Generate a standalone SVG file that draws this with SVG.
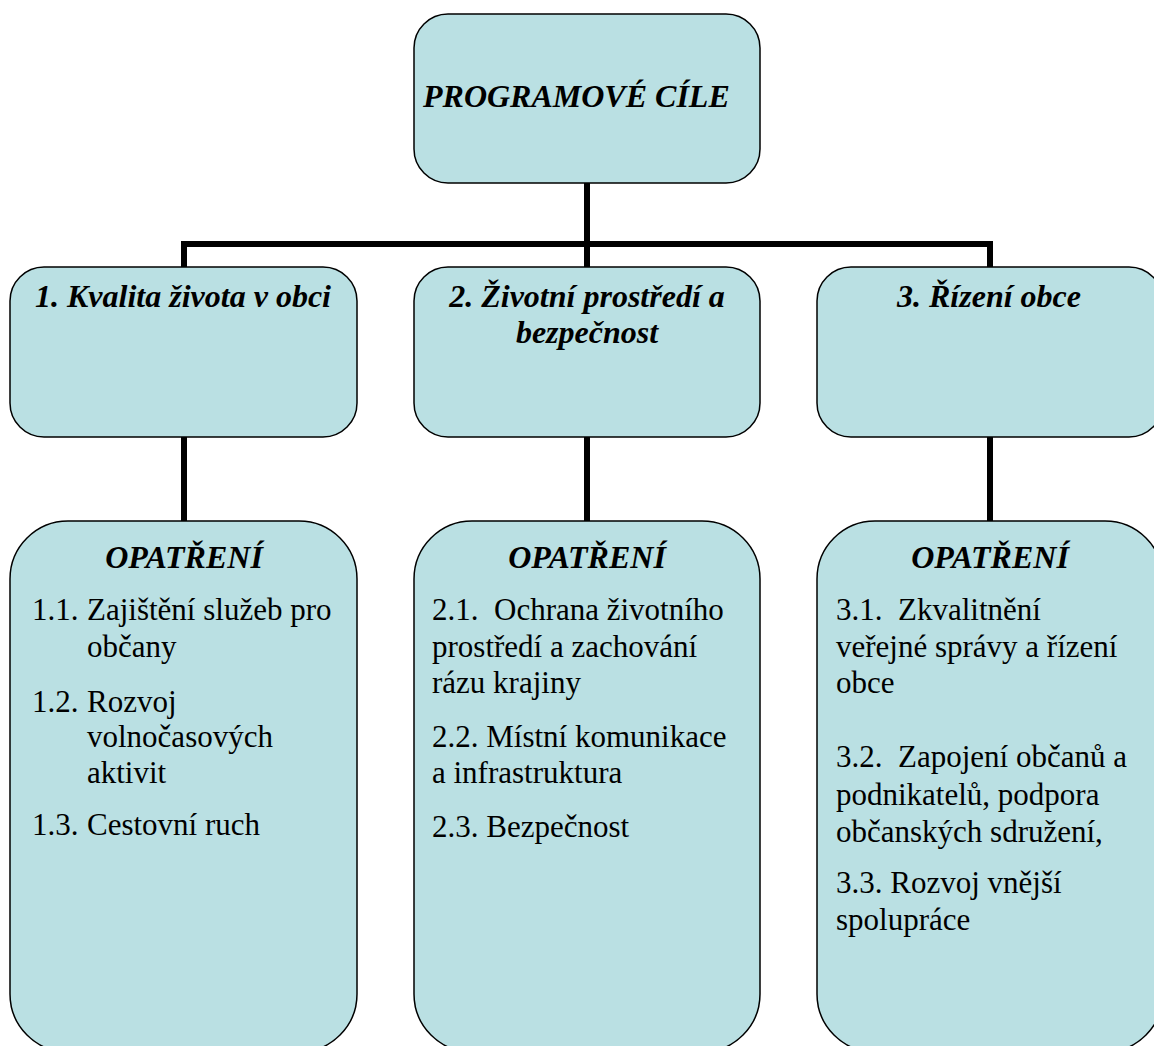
<svg xmlns="http://www.w3.org/2000/svg" width="1154" height="1046" viewBox="0 0 1154 1046">
<rect width="1154" height="1046" fill="#fff"/>
<g id="connectors" stroke="#000" stroke-width="6" fill="none">
<path d="M587 183V244M181 244H993M184 241V267M587 244V267M990 241V267"/>
<path d="M184 437V521M587 437V521M990 437V521"/>
</g>
<g id="top">
<rect x="414" y="14" width="346" height="169" rx="34" fill="#BAE0E3" stroke="#000" stroke-width="1.5"/>
<text x="423" y="107" font-family="Liberation Serif" style="font-family:'Liberation Serif',serif !important;font-weight:bold;font-style:italic;font-size:32px">PROGRAMOVÉ CÍLE</text>
</g>
<g id="goal1">
<rect x="10" y="267" width="347" height="170" rx="34" fill="#BAE0E3" stroke="#000" stroke-width="1.5"/>
<text x="183" y="307" text-anchor="middle" font-family="Liberation Serif" style="font-family:'Liberation Serif',serif !important;font-weight:bold;font-style:italic;font-size:32px">1. Kvalita života v obci</text>
</g>
<g id="goal2">
<rect x="414" y="267" width="346" height="170" rx="34" fill="#BAE0E3" stroke="#000" stroke-width="1.5"/>
<text x="587" y="307" text-anchor="middle" font-family="Liberation Serif" style="font-family:'Liberation Serif',serif !important;font-weight:bold;font-style:italic;font-size:32px">2. Životní prostředí a</text>
<text x="587" y="343" text-anchor="middle" font-family="Liberation Serif" style="font-family:'Liberation Serif',serif !important;font-weight:bold;font-style:italic;font-size:32px">bezpečnost</text>
</g>
<g id="goal3">
<rect x="817" y="267" width="346" height="170" rx="34" fill="#BAE0E3" stroke="#000" stroke-width="1.5"/>
<text x="989" y="307" text-anchor="middle" font-family="Liberation Serif" style="font-family:'Liberation Serif',serif !important;font-weight:bold;font-style:italic;font-size:32px">3. Řízení obce</text>
</g>
<g id="measures1">
<rect x="10" y="521" width="347" height="531" rx="58" fill="#BAE0E3" stroke="#000" stroke-width="1.5"/>
<text x="184" y="568" text-anchor="middle" font-family="Liberation Serif" style="font-family:'Liberation Serif',serif !important;font-weight:bold;font-style:italic;font-size:32px">OPATŘENÍ</text>
<text x="32" y="620" font-family="Liberation Serif" style="font-family:'Liberation Serif',serif !important;font-size:31px">1.1.</text>
<text x="87" y="620" font-family="Liberation Serif" style="font-family:'Liberation Serif',serif !important;font-size:31px">Zajištění služeb pro</text>
<text x="87" y="657" font-family="Liberation Serif" style="font-family:'Liberation Serif',serif !important;font-size:31px">občany</text>
<text x="32" y="712" font-family="Liberation Serif" style="font-family:'Liberation Serif',serif !important;font-size:31px">1.2.</text>
<text x="87" y="712" font-family="Liberation Serif" style="font-family:'Liberation Serif',serif !important;font-size:31px">Rozvoj</text>
<text x="87" y="747" font-family="Liberation Serif" style="font-family:'Liberation Serif',serif !important;font-size:31px">volnočasových</text>
<text x="87" y="783" font-family="Liberation Serif" style="font-family:'Liberation Serif',serif !important;font-size:31px">aktivit</text>
<text x="32" y="835" font-family="Liberation Serif" style="font-family:'Liberation Serif',serif !important;font-size:31px">1.3.</text>
<text x="87" y="835" font-family="Liberation Serif" style="font-family:'Liberation Serif',serif !important;font-size:31px">Cestovní ruch</text>
</g>
<g id="measures2">
<rect x="414" y="521" width="346" height="531" rx="58" fill="#BAE0E3" stroke="#000" stroke-width="1.5"/>
<text x="587" y="568" text-anchor="middle" font-family="Liberation Serif" style="font-family:'Liberation Serif',serif !important;font-weight:bold;font-style:italic;font-size:32px">OPATŘENÍ</text>
<text x="432" y="620" font-family="Liberation Serif" style="font-family:'Liberation Serif',serif !important;font-size:31px;white-space:pre">2.1.  Ochrana životního</text>
<text x="432" y="657" font-family="Liberation Serif" style="font-family:'Liberation Serif',serif !important;font-size:31px">prostředí a zachování</text>
<text x="432" y="693" font-family="Liberation Serif" style="font-family:'Liberation Serif',serif !important;font-size:31px">rázu krajiny</text>
<text x="432" y="747" font-family="Liberation Serif" style="font-family:'Liberation Serif',serif !important;font-size:31px">2.2. Místní komunikace</text>
<text x="432" y="783" font-family="Liberation Serif" style="font-family:'Liberation Serif',serif !important;font-size:31px">a infrastruktura</text>
<text x="432" y="837" font-family="Liberation Serif" style="font-family:'Liberation Serif',serif !important;font-size:31px">2.3. Bezpečnost</text>
</g>
<g id="measures3">
<rect x="817" y="521" width="346" height="531" rx="58" fill="#BAE0E3" stroke="#000" stroke-width="1.5"/>
<text x="990" y="568" text-anchor="middle" font-family="Liberation Serif" style="font-family:'Liberation Serif',serif !important;font-weight:bold;font-style:italic;font-size:32px">OPATŘENÍ</text>
<text x="836" y="620" font-family="Liberation Serif" style="font-family:'Liberation Serif',serif !important;font-size:31px;white-space:pre">3.1.  Zkvalitnění</text>
<text x="836" y="657" font-family="Liberation Serif" style="font-family:'Liberation Serif',serif !important;font-size:31px">veřejné správy a řízení</text>
<text x="836" y="693" font-family="Liberation Serif" style="font-family:'Liberation Serif',serif !important;font-size:31px">obce</text>
<text x="836" y="767" font-family="Liberation Serif" style="font-family:'Liberation Serif',serif !important;font-size:31px;white-space:pre">3.2.  Zapojení občanů a</text>
<text x="836" y="805" font-family="Liberation Serif" style="font-family:'Liberation Serif',serif !important;font-size:31px">podnikatelů, podpora</text>
<text x="836" y="842" font-family="Liberation Serif" style="font-family:'Liberation Serif',serif !important;font-size:31px">občanských sdružení,</text>
<text x="836" y="893" font-family="Liberation Serif" style="font-family:'Liberation Serif',serif !important;font-size:31px">3.3. Rozvoj vnější</text>
<text x="836" y="930" font-family="Liberation Serif" style="font-family:'Liberation Serif',serif !important;font-size:31px">spolupráce</text>
</g>
</svg>
